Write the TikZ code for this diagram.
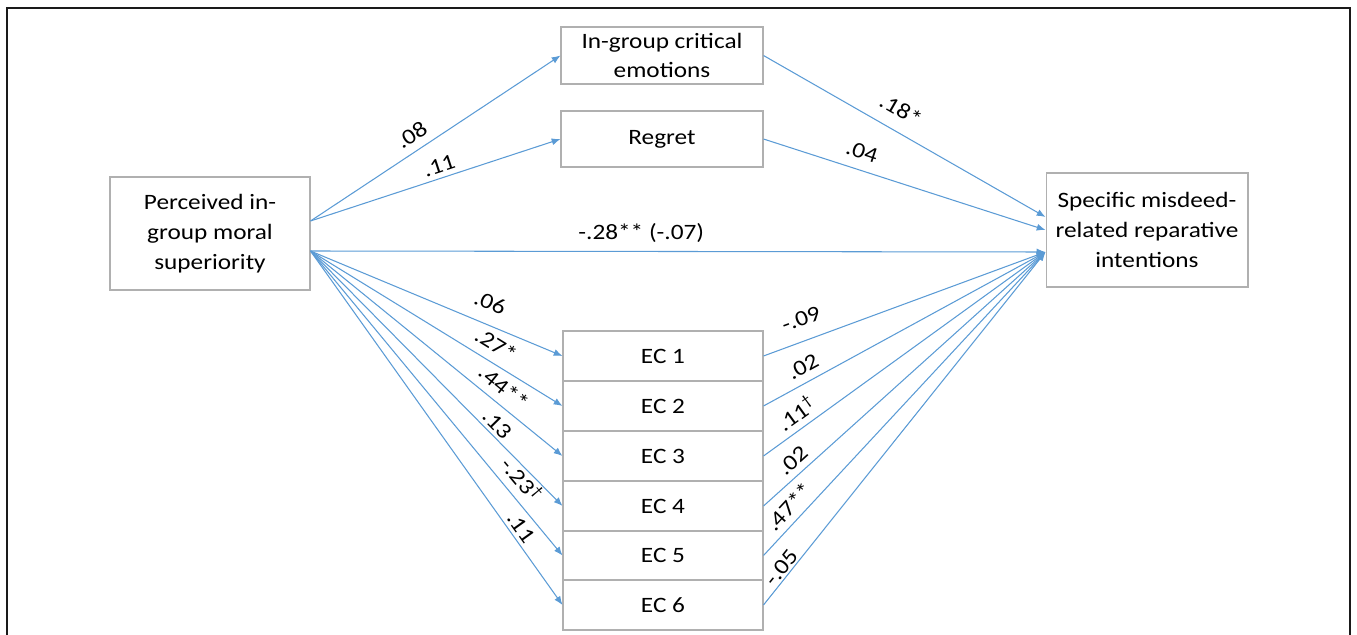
\documentclass[tikz,border=0pt]{standalone}
\usepackage{fontspec}
\setmainfont{Carlito}[FakeStretch=1.15]
\usetikzlibrary{arrows.meta,calc}
\definecolor{LinkBlue}{HTML}{5B9BD5}
\definecolor{BoxLine}{HTML}{B0B0B0}
\definecolor{Frame}{HTML}{1A1A1A}

\begin{document}
\begin{tikzpicture}[x=0.02cm,y=-0.02cm,>={Latex[length=5pt,width=4pt]},font=\fontsize{12.5}{17}\selectfont,
  box/.style={draw=BoxLine,line width=0.6pt,align=center,inner sep=2pt,minimum width=4.04cm},
  ecbox/.style={box,minimum width=4cm,minimum height=1cm},
  link/.style={LinkBlue,line width=0.6pt,->},
  coef/.style={sloped,above=#1,inner sep=1pt,text=black},coef/.default=6pt]
\useasboundingbox (0,0) rectangle (1357,635);
\draw[Frame,line width=0.8pt] (7,640)--(7,8)--(1350,8)--(1350,640);
% boxes
\node[box,minimum width=4cm,minimum height=2.26cm] (lms) at (210,233.5){Perceived in-\\group moral\\superiority};
\node[box,minimum height=2.28cm] (rep) at (1147,230){Specific misdeed-\\related reparative\\intentions};
\node[box,minimum height=1.14cm] (crit) at (662,55.5){In-group critical\\emotions};
\node[box,minimum height=1.12cm] (regret) at (662,139){Regret};
\foreach \i/\y in {1/356,2/406,3/456,4/506,5/555.5,6/605}
  \node[ecbox] (ec\i) at (663,\y){EC \i};
% end points on the two outer boxes
\coordinate (lmsA) at ($(lms.east)+(0,-12.5)$);
\coordinate (lmsB) at ($(lms.east)+(0,17.5)$);
\coordinate (repA) at ($(rep.west)+(0,-13)$);
\coordinate (repB) at ($(rep.west)+(0,22)$);
% paths
\draw[link] (lmsA) -- node[coef=3.5pt,pos=.44]{.08} (crit.west);
\draw[link] (lmsA) -- node[coef=1.5pt,pos=.53]{.11} (regret.west);
\draw[link] (crit.east) -- node[coef=6.4pt,pos=.45]{.18*} (repA);
\draw[link] (regret.east) -- node[coef=4.7pt,pos=.33]{.04} (rep.west);
\draw[link] (lmsB) -- node[coef=4pt,pos=.45]{-.28** (-.07)} (repB);
\foreach \i/\a/\p/\s/\b/\q/\t in {1/.06/.68/6.7pt/-.09/.16/7pt,2/.27*/.70/4.3pt/.02/.167/3.6pt,
    3/.44**/.726/3.6pt/{.11\textsuperscript{\textdagger}}/.148/2.6pt,4/.13/.71/1pt/.02/.138/2.7pt,
    5/{-.23\textsuperscript{\textdagger}}/.787/3.7pt/.47**/.129/2.4pt,6/.11/.80/1pt/-.05/.09/0pt}{
  \draw[link] (lmsB) -- node[coef=\s,pos=\p]{\a} (ec\i.west);
  \draw[link] (ec\i.east) -- node[coef=\t,pos=\q]{\b} (repB);
}
\end{tikzpicture}
\end{document}
